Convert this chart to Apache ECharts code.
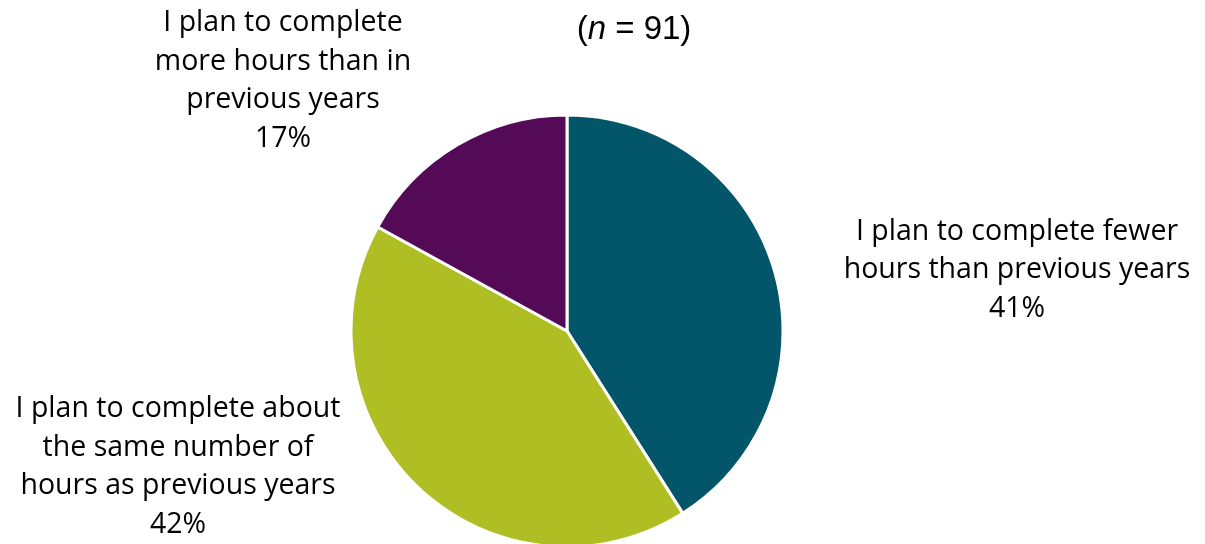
<!DOCTYPE html>
<html>
<head>
<meta charset="utf-8">
<script src="https://cdn.jsdelivr.net/npm/echarts@6/dist/echarts.min.js"></script>
<style>
  html, body { margin: 0; padding: 0; background: #fff; }
  #chart { width: 1205px; height: 544px; }
</style>
</head>
<body>
<div id="chart"></div>
<script>
// Survey responses on planned hours
const categories = [
  'I plan to complete fewer\nhours than previous years',
  'I plan to complete about\nthe same number of\nhours as previous years',
  'I plan to complete\nmore hours than in\nprevious years'
];
const percents = [41, 42, 17];
const colors = ['#03566A', '#AFBE22', '#550A58'];
const sampleSize = 91;

// Where each slice's label block is centred
const labelAnchors = [
  { x: 1017, y: 270 },
  { x: 178, y: 467 },
  { x: 283, y: 81 }
];

const chart = echarts.init(document.getElementById('chart'), null, { renderer: 'canvas' });

const labelFont = '"Open Sans", Lato, sans-serif';

chart.setOption({
  animation: false,
  title: {
    text: '({n|n} = ' + sampleSize + ')',
    left: 629,
    top: 8,
    textAlign: 'center',
    textStyle: {
      fontFamily: '"Liberation Sans", Arial, sans-serif',
      fontSize: 33,
      fontWeight: 'normal',
      color: '#000',
      rich: {
        n: {
          fontFamily: '"Liberation Sans", Arial, sans-serif',
          fontSize: 33,
          fontStyle: 'italic',
          color: '#000'
        }
      }
    }
  },
  series: [{
    type: 'pie',
    center: [567, 331],
    radius: [0, 216],
    startAngle: 90,
    clockwise: true,
    data: categories.map((name, i) => ({
      name: name,
      value: percents[i],
      itemStyle: { color: colors[i] }
    })),
    itemStyle: { borderColor: '#fff', borderWidth: 3 },
    label: {
      show: true,
      position: 'outside',
      formatter: p => p.name + '\n' + p.value + '%',
      fontFamily: labelFont,
      fontSize: 28.5,
      lineHeight: 38.5,
      color: '#000',
      align: 'center'
    },
    labelLine: { show: false },
    labelLayout: params => {
      const a = labelAnchors[params.dataIndex];
      return {
        x: a.x,
        y: a.y,
        align: 'center',
        verticalAlign: 'middle'
      };
    },
    emphasis: { disabled: true }
  }]
});
</script>
</body>
</html>
